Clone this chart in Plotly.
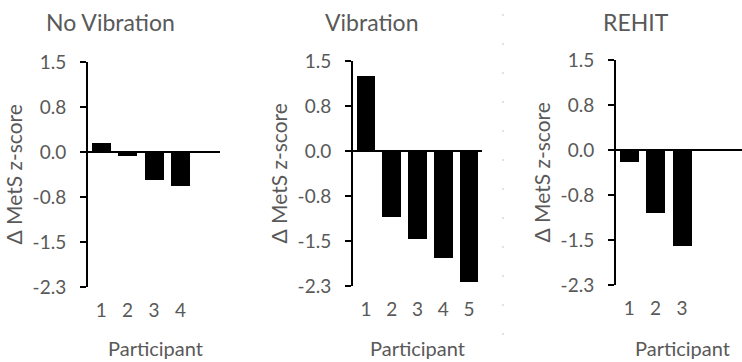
import plotly.graph_objects as go

# ---- data ----
panel_titles = ["No Vibration", "Vibration", "REHIT"]
no_vib_participants = [1, 2, 3, 4]
no_vib_values = [0.15, -0.07, -0.47, -0.57]
vib_participants = [1, 2, 3, 4, 5]
vib_values = [1.25, -1.10, -1.46, -1.78, -2.18]
rehit_participants = [1, 2, 3]
rehit_values = [-0.20, -1.05, -1.60]
y_tick_values = [1.5, 0.75, 0.0, -0.75, -1.5, -2.25]
y_tick_labels = ["1.5", "0.8", "0.0", "-0.8", "-1.5", "-2.3"]
y_title = "Δ MetS z-score"
x_title = "Participant"

W, H = 742, 362
FONT = "Lato"
GREY = "#595959"

# pixel layout of each panel: (x_left, x_right, y_top, y_bottom, x_range_max, title_x, xtitle_x)
panels = [
    (88, 220, 62, 287, 5.5, 110, 155),
    (353, 482, 61, 286, 5.5, 371, 417),
    (616, 742, 60, 285, 0.5 + 126 / 26.4, 636, 682),
]
series = [
    (no_vib_participants, no_vib_values),
    (vib_participants, vib_values),
    (rehit_participants, rehit_values),
]

fig = go.Figure()
annotations = []
for i, ((xl, xr, yt, yb, xmax, tx, ptx), (xs, ys), title) in enumerate(zip(panels, series, panel_titles)):
    n = "" if i == 0 else str(i + 1)
    fig.add_trace(go.Bar(
        x=xs, y=ys, width=0.72,
        marker=dict(color="black", line=dict(width=0)),
        xaxis="x" + n, yaxis="y" + n, showlegend=False,
    ))
    xdom = [xl / W, xr / W]
    ydom = [1 - yb / H, 1 - yt / H]
    fig.update_layout(**{
        "xaxis" + n: dict(
            domain=xdom, range=[0.5, xmax], anchor="y" + n,
            tickvals=xs, ticktext=[str(v) for v in xs],
            showline=False, showgrid=False, zeroline=False,
            ticks="", ticklabelstandoff=10, automargin=False,
            tickfont=dict(family=FONT, size=19, color=GREY),
            fixedrange=True,
        ),
        "yaxis" + n: dict(
            domain=ydom, range=[-2.25, 1.5], anchor="x" + n,
            tickvals=y_tick_values, ticktext=y_tick_labels,
            showline=True, linecolor="black", linewidth=2,
            ticks="outside", ticklen=6, tickwidth=2, tickcolor="black",
            ticklabelstandoff=10, automargin=False,
            showgrid=False,
            zeroline=True, zerolinecolor="black", zerolinewidth=2,
            tickfont=dict(family=FONT, size=19, color=GREY),
            fixedrange=True,
        ),
    })
    # panel title
    annotations.append(dict(
        text=title, x=tx / W, y=1 - 22 / H,
        xref="paper", yref="paper", xanchor="center", yanchor="middle",
        showarrow=False, font=dict(family=FONT, size=23, color=GREY),
    ))
    # y-axis title
    annotations.append(dict(
        text=y_title, x=(xl - 75) / W, y=1 - (yt + yb) / 2 / H,
        xref="paper", yref="paper", xanchor="center", yanchor="middle",
        textangle=-90, showarrow=False,
        font=dict(family=FONT, size=21, color=GREY),
    ))
    # x-axis title
    annotations.append(dict(
        text=x_title, x=ptx / W, y=1 - 348 / H,
        xref="paper", yref="paper", xanchor="center", yanchor="middle",
        showarrow=False, font=dict(family=FONT, size=20, color=GREY),
    ))

fig.update_layout(
    width=W, height=H, autosize=False,
    margin=dict(l=0, r=0, t=0, b=0, pad=0, autoexpand=False),
    paper_bgcolor="white", plot_bgcolor="white",
    bargap=0,
    annotations=annotations,
    shapes=[dict(
        type="line", xref="paper", yref="paper",
        x0=503 / W, x1=503 / W, y0=1 - 14 / H, y1=0,
        line=dict(color="#d9d9d9", width=1.5, dash="2px,27px"),
    )],
)

fig.write_html(
    "out.html",
    config={"displayModeBar": False},
    post_script="document.body.style.margin='0';document.body.style.overflow='hidden';",
)
